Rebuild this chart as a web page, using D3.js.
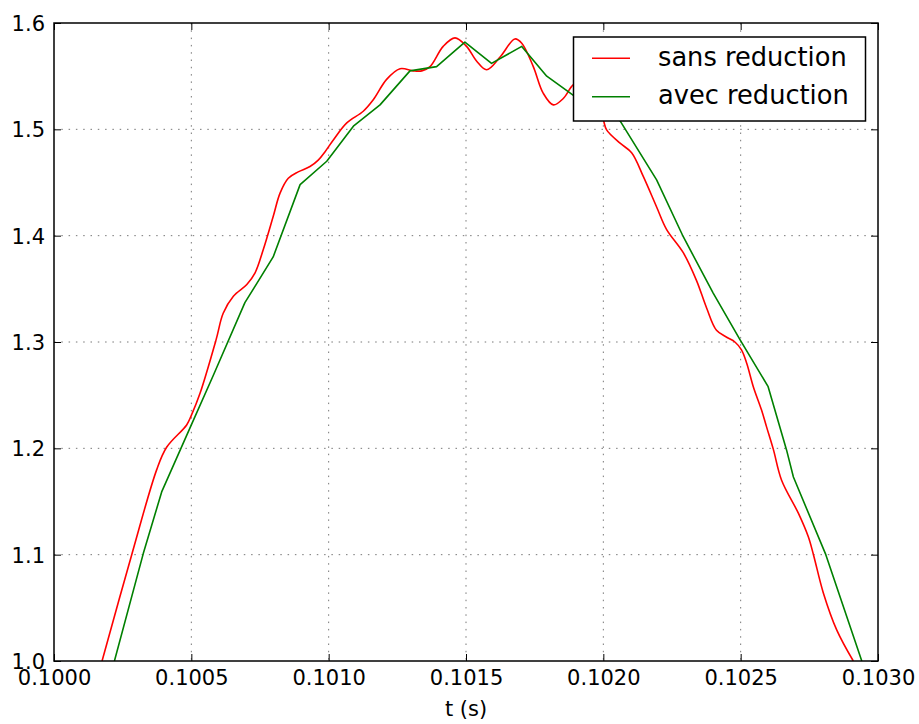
<!DOCTYPE html>
<html>
<head>
<meta charset="utf-8">
<script src="https://cdn.jsdelivr.net/npm/d3@7"></script>
<style>
  html, body { margin: 0; padding: 0; background: #fff; }
  svg text { font-family: "DejaVu Sans", sans-serif; fill: #000; }
</style>
</head>
<body>
<svg id="chart" width="919" height="724"></svg>
<script>
// Time samples (s) and signal values for each run
const tSans = [0.100175, 0.100283, 0.100374, 0.100410, 0.100483, 0.100500, 0.100532, 0.100590,
  0.100616, 0.100653, 0.100702, 0.100732, 0.100762, 0.100798, 0.100823, 0.100853, 0.100889,
  0.100932, 0.100962, 0.100987, 0.101017, 0.101066, 0.101126, 0.101163, 0.101211, 0.101260,
  0.101308, 0.101339, 0.101369, 0.101417, 0.101460, 0.101502, 0.101539, 0.101575, 0.101624,
  0.101678, 0.101703, 0.101745, 0.101781, 0.101818, 0.101854, 0.101891, 0.101940, 0.101975,
  0.102000, 0.102012, 0.102061, 0.102103, 0.102145, 0.102194, 0.102230, 0.102291, 0.102339,
  0.102376, 0.102412, 0.102449, 0.102479, 0.102503, 0.102522, 0.102546, 0.102576, 0.102594,
  0.102619, 0.102649, 0.102710, 0.102746, 0.102765, 0.102801, 0.102850, 0.102910];
const vSans = [1.000, 1.100, 1.180, 1.201, 1.222, 1.231, 1.252, 1.302,
  1.327, 1.343, 1.354, 1.365, 1.387, 1.418, 1.440, 1.454, 1.460,
  1.465, 1.471, 1.479, 1.490, 1.506, 1.517, 1.528, 1.547, 1.557,
  1.555, 1.555, 1.559, 1.578, 1.586, 1.578, 1.564, 1.556, 1.568,
  1.585, 1.581, 1.559, 1.534, 1.523, 1.529, 1.542, 1.548, 1.530,
  1.509, 1.4995, 1.487, 1.478, 1.456, 1.427, 1.406, 1.384, 1.358,
  1.332, 1.311, 1.3045, 1.300, 1.2926, 1.280, 1.258, 1.236, 1.2204,
  1.199, 1.170, 1.139, 1.117, 1.100, 1.064, 1.029, 1.000];

const tAvec = [0.100220, 0.100325, 0.100392, 0.100500, 0.100579, 0.100695, 0.100798, 0.100896,
  0.100993, 0.101090, 0.101187, 0.101296, 0.101393, 0.101496, 0.101593, 0.101703, 0.101794,
  0.101891, 0.101990, 0.102061, 0.102194, 0.102291, 0.102400, 0.102498, 0.102600, 0.102667,
  0.102692, 0.102810, 0.102941];
const vAvec = [1.000, 1.101, 1.159, 1.222, 1.268, 1.337, 1.380, 1.448,
  1.470, 1.503, 1.523, 1.555, 1.559, 1.582, 1.562, 1.578, 1.550,
  1.532, 1.522, 1.508, 1.4525, 1.399, 1.346, 1.302, 1.258, 1.1985,
  1.173, 1.100, 1.000];

const xTicks = [0.1000, 0.1005, 0.1010, 0.1015, 0.1020, 0.1025, 0.1030];
const yTicks = [1.0, 1.1, 1.2, 1.3, 1.4, 1.5, 1.6];
const seriesNames = ["sans reduction", "avec reduction"];
const seriesColors = ["#ff0000", "#008000"];

const svg = d3.select("#chart");
const pL = 54, pR = 878, pT = 23, pB = 661;

const x = d3.scaleLinear().domain([0.1000, 0.1030]).range([pL, pR]);
const y = d3.scaleLinear().domain([1.0, 1.6]).range([pB, pT]);

// dotted grid
const grid = svg.append("g").attr("stroke", "#777").attr("stroke-width", 1)
  .attr("stroke-dasharray", "1.5,5.8");
grid.selectAll("line.gx").data(xTicks.slice(1, -1)).join("line").attr("class", "gx")
  .attr("x1", d => x(d)).attr("x2", d => x(d)).attr("y1", pT).attr("y2", pB);
grid.selectAll("line.gy").data(yTicks.slice(1, -1)).join("line").attr("class", "gy")
  .attr("x1", pL).attr("x2", pR).attr("y1", d => y(d)).attr("y2", d => y(d));

// clipped data lines
svg.append("clipPath").attr("id", "plotClip").append("rect")
  .attr("x", pL).attr("y", pT).attr("width", pR - pL).attr("height", pB - pT);

const seriesData = [
  { pts: tSans.map((t, i) => [t, vSans[i]]), curve: d3.curveCatmullRom.alpha(0.5) },
  { pts: tAvec.map((t, i) => [t, vAvec[i]]), curve: d3.curveLinear }
];
const plot = svg.append("g").attr("clip-path", "url(#plotClip)");
seriesData.forEach((s, i) => {
  const line = d3.line().x(d => x(d[0])).y(d => y(d[1])).curve(s.curve);
  plot.append("path").attr("d", line(s.pts)).attr("fill", "none")
    .attr("stroke", seriesColors[i]).attr("stroke-width", 1.6)
    .attr("stroke-linejoin", "round");
});

// axes with inward ticks on all four sides
const fmtX = d3.format(".4f"), fmtY = d3.format(".1f");
function styleAxis(g) {
  g.select(".domain").remove();
  g.selectAll(".tick line").attr("stroke", "#000").attr("stroke-width", 1);
  g.selectAll("text").attr("font-size", 21).attr("font-family", "DejaVu Sans, sans-serif")
    .attr("fill", "#000");
}
svg.append("g").attr("transform", `translate(0,${pB})`)
  .call(d3.axisBottom(x).tickValues(xTicks).tickFormat(fmtX).tickSizeInner(-7))
  .call(styleAxis)
  .call(g => g.selectAll("text").attr("dy", "0.71em").attr("y", 9));
svg.append("g").attr("transform", `translate(0,${pT})`)
  .call(d3.axisTop(x).tickValues(xTicks).tickFormat("").tickSizeInner(-7))
  .call(styleAxis);
svg.append("g").attr("transform", `translate(${pL},0)`)
  .call(d3.axisLeft(y).tickValues(yTicks).tickFormat(fmtY).tickSizeInner(-7))
  .call(styleAxis)
  .call(g => g.selectAll("text").attr("x", -9).attr("dy", "0.35em"));
svg.append("g").attr("transform", `translate(${pR},0)`)
  .call(d3.axisRight(y).tickValues(yTicks).tickFormat("").tickSizeInner(-7))
  .call(styleAxis);

// frame
svg.append("rect").attr("x", pL).attr("y", pT).attr("width", pR - pL)
  .attr("height", pB - pT).attr("fill", "none").attr("stroke", "#000").attr("stroke-width", 1.5);

// x label
svg.append("text").attr("x", (pL + pR) / 2).attr("y", 716)
  .attr("text-anchor", "middle").attr("font-size", 21).text("t (s)");

// legend
const lg = svg.append("g");
lg.append("rect").attr("x", 573.5).attr("y", 37).attr("width", 292).attr("height", 84)
  .attr("fill", "#fff").attr("stroke", "#000").attr("stroke-width", 1.5);
seriesNames.forEach((name, i) => {
  const cy = 58.3 + i * 38.4;
  lg.append("line").attr("x1", 592).attr("x2", 630).attr("y1", cy).attr("y2", cy)
    .attr("stroke", seriesColors[i]).attr("stroke-width", 1.6);
  lg.append("text").attr("x", 658).attr("y", cy + 7.5).attr("font-size", 25.7).text(name);
});
</script>
</body>
</html>
